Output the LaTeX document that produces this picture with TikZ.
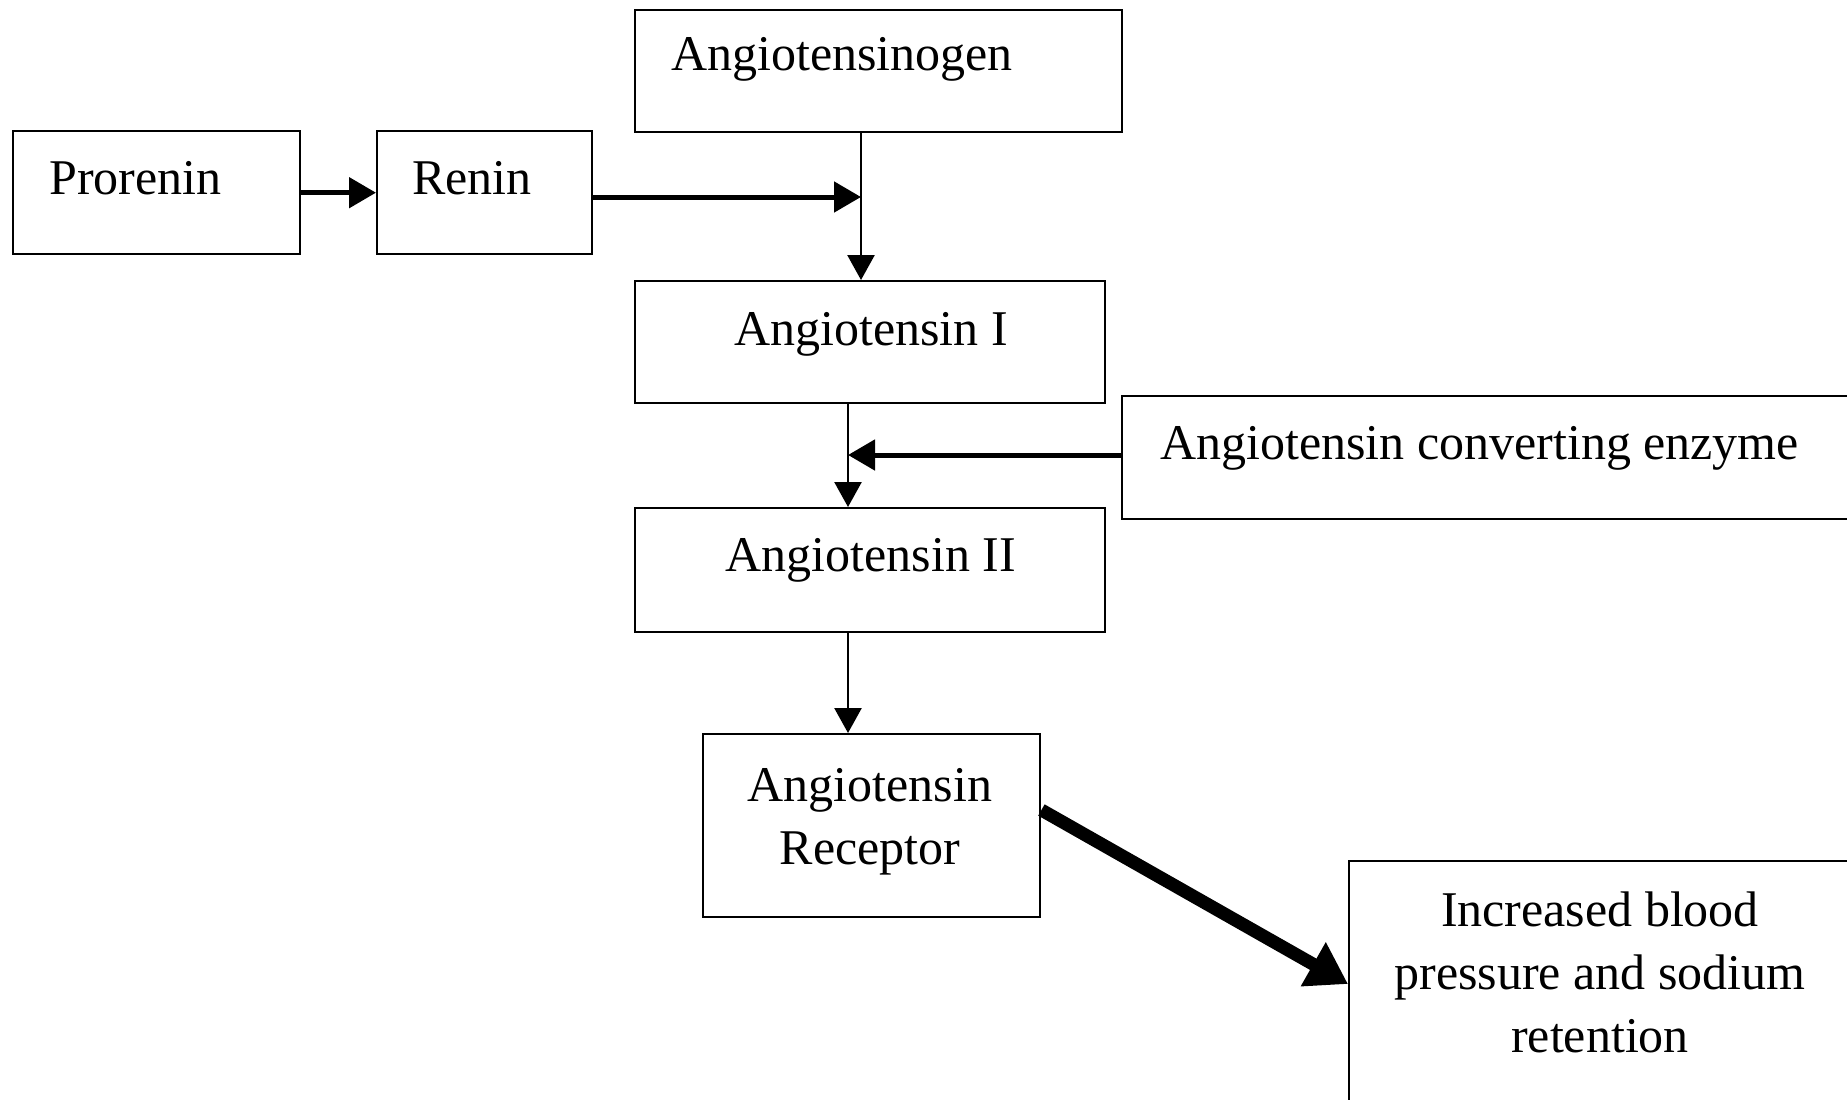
\documentclass[tikz,border=0pt]{standalone}
\usepackage{fontspec}
\setmainfont{Liberation Serif}
\usetikzlibrary{arrows.meta,calc}
\begin{document}
\begin{tikzpicture}[x=1pt,y=-1pt,
  box/.style={draw,line width=2.4pt,rectangle,inner sep=0pt,anchor=north west},
  lbl/.style={inner sep=0pt,font=\fontsize{50}{63}\selectfont},
  thick arrow/.style={line width=5pt,-{Triangle[length=27pt,width=30pt]}},
  thin arrow/.style={line width=2.6pt,-{Triangle[length=25pt,width=27pt]}},
  big arrow/.style={line width=13pt,-{Triangle[length=40pt,width=48pt]}}
]
\useasboundingbox (0,0) rectangle (1847,1100);
\clip (0,0) rectangle (1847,1100);
\fill[white] (0,0) rectangle (1847,1100);

% boxes
\node[box,minimum width=287pt,minimum height=123pt] (pro) at (12,130) {};
\node[box,minimum width=215pt,minimum height=123pt] (ren) at (376,130) {};
\node[box,minimum width=487pt,minimum height=122pt] (aog) at (634,9) {};
\node[box,minimum width=470pt,minimum height=122pt] (ang1) at (634,280) {};
\node[box,minimum width=780pt,minimum height=123pt] (ace) at (1121,395) {};
\node[box,minimum width=470pt,minimum height=124pt] (ang2) at (634,507) {};
\node[box,minimum width=337pt,minimum height=183pt] (rec) at (702,733) {};
\node[box,minimum width=504pt,minimum height=300pt] (inc) at (1348,860) {};

% texts
\node[lbl,anchor=base west] (tpro) at (49,194) {Prorenin};
\node[lbl,anchor=base west] (tren) at (412,194) {Renin};
\node[lbl,anchor=base west] (taog) at (671,70) {Angiotensinogen};
\node[lbl,anchor=base] (tang1) at (871,345) {Angiotensin I};
\node[lbl,anchor=base west] (tace) at (1160,459) {Angiotensin converting enzyme};
\node[lbl,anchor=base] (tang2) at (871,571) {Angiotensin II};
\node[lbl,anchor=north,align=center] (trec) at (870,768) {Angiotensin\\Receptor};
\node[lbl,anchor=north,align=center] (tinc) at (1600,892) {Increased blood\\pressure and sodium\\retention};

% junctions
\coordinate (j1) at (861,197);
\coordinate (j2) at (848,455);

% connectors
\draw[thick arrow] (pro.east) -- (ren.west);
\draw[thick arrow] (ren.east |- j1) -- (j1);
\draw[thin arrow] (j1 |- aog.south) -- (j1 |- ang1.north);
\draw[thin arrow] (j2 |- ang1.south) -- (j2 |- ang2.north);
\draw[thick arrow] (ace.west |- j2) -- (j2);
\draw[thin arrow] (j2 |- ang2.south) -- (j2 |- rec.north);
\draw[big arrow] (rec.east |- 0,810) -- (inc.west |- 0,984);
\end{tikzpicture}
\end{document}
